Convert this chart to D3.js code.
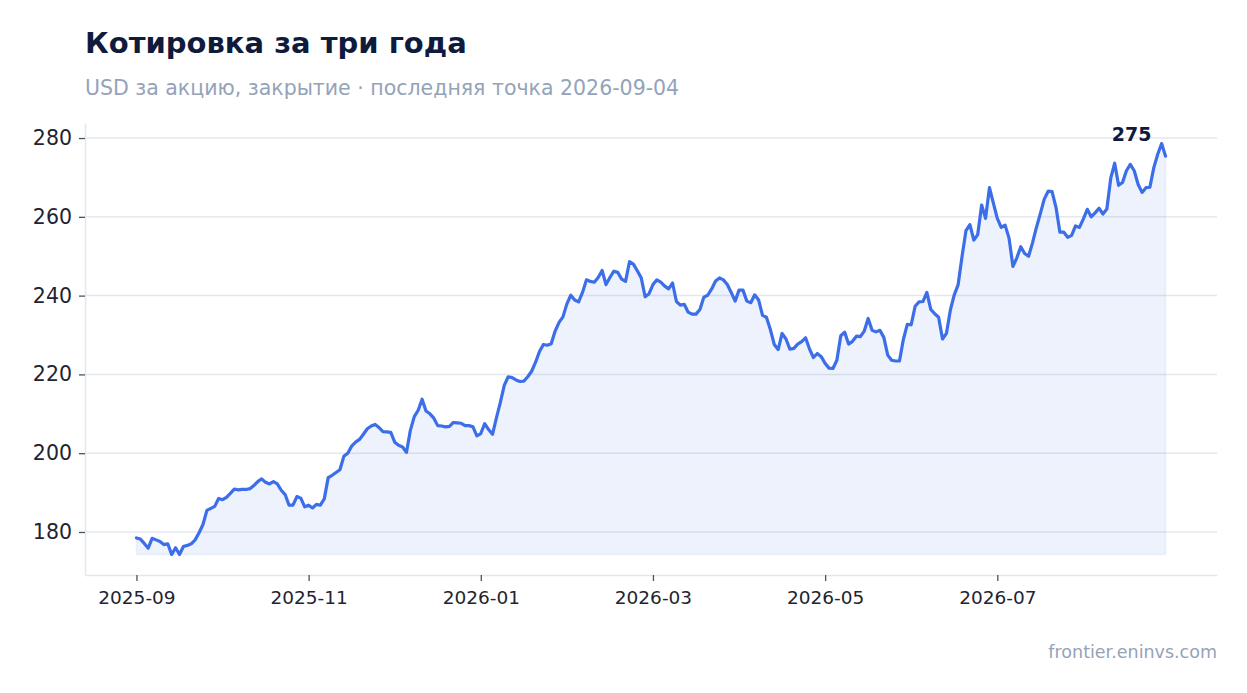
<!DOCTYPE html>
<html lang="ru">
<head>
<meta charset="utf-8">
<title>Котировка за три года</title>
<script src="https://cdn.jsdelivr.net/npm/d3@7"></script>
<style>
  html, body { margin: 0; padding: 0; background: #fff; }
  body { font-family: "DejaVu Sans", sans-serif; }
  svg { display: block; }
</style>
</head>
<body>
<svg id="chart"></svg>
<script>
// Closing price chart: one line with a light fill down to the series minimum.

// ---------------------------------------------------------------------------
// Data
// ---------------------------------------------------------------------------
const title    = "Котировка за три года";
const subtitle = "USD за акцию, закрытие · последняя точка 2026-09-04";
const source   = "frontier.eninvs.com";

// month labels, 22 trading points per month
const months = [
  "2025-09", "2025-10", "2025-11", "2025-12", "2026-01", "2026-02",
  "2026-03", "2026-04", "2026-05", "2026-06", "2026-07", "2026-08",
];
const pointsPerMonth = 22;

const closes = [
  178.5, 178.2, 177.1, 175.9, 178.4, 178.0, 177.6, 176.8, 177.0, 174.3, 176.0, 174.3, 176.3, 176.6, 177.0, 178.0, 179.8, 181.9, 185.5, 186.0, 186.5, 188.5,
  188.2, 188.8, 189.8, 190.9, 190.7, 190.8, 190.8, 191.0, 191.8, 192.8, 193.5, 192.6, 192.2, 192.8, 192.2, 190.6, 189.5, 186.8, 186.8, 189.0, 188.6, 186.4,
  186.8, 186.1, 187.0, 186.8, 188.4, 193.8, 194.4, 195.1, 195.8, 199.2, 200.0, 201.8, 202.8, 203.5, 204.8, 206.2, 206.9, 207.3, 206.5, 205.5, 205.4, 205.3,
  202.8, 202.0, 201.6, 200.2, 205.8, 209.3, 210.9, 213.7, 210.7, 210.0, 208.9, 207.0, 206.9, 206.7, 206.8, 207.8, 207.7, 207.6, 207.0, 207.0, 206.7, 204.4,
  205.0, 207.5, 206.0, 204.8, 209.0, 212.9, 217.2, 219.4, 219.2, 218.6, 218.2, 218.3, 219.4, 220.8, 223.1, 225.8, 227.6, 227.4, 227.8, 231.0, 233.2, 234.6,
  237.9, 240.1, 238.9, 238.4, 240.8, 244.0, 243.6, 243.4, 244.6, 246.4, 242.8, 244.6, 246.2, 245.9, 244.2, 243.6, 248.6, 248.0, 246.3, 244.5, 239.7, 240.5,
  242.8, 244.0, 243.4, 242.4, 241.7, 243.2, 238.5, 237.6, 237.8, 235.8, 235.3, 235.3, 236.5, 239.6, 240.1, 241.7, 243.7, 244.5, 244.0, 242.8, 240.8, 238.6,
  241.4, 241.4, 238.6, 238.2, 240.2, 238.9, 235.0, 234.5, 231.4, 227.6, 226.3, 230.4, 229.0, 226.4, 226.6, 227.7, 228.3, 229.3, 226.5, 224.3, 225.3, 224.5,
  222.8, 221.6, 221.5, 223.6, 229.8, 230.7, 227.7, 228.4, 229.7, 229.6, 231.0, 234.2, 231.2, 230.8, 231.2, 229.4, 224.9, 223.6, 223.4, 223.4, 228.9, 232.7,
  232.6, 237.3, 238.4, 238.5, 240.8, 236.5, 235.4, 234.5, 229.0, 230.4, 236.3, 240.2, 242.8, 250.0, 256.5, 258.0, 254.1, 255.5, 263.0, 259.6, 267.4, 263.5,
  259.6, 257.3, 257.9, 254.6, 247.4, 249.6, 252.4, 250.7, 250.0, 253.4, 257.3, 260.8, 264.5, 266.5, 266.4, 262.4, 256.1, 256.1, 254.8, 255.3, 257.7, 257.3,
  259.5, 261.9, 260.0, 261.0, 262.2, 260.7, 262.0, 269.8, 273.6, 268.0, 268.7, 271.7, 273.3, 271.7, 268.2, 266.2, 267.4, 267.5, 272.5, 275.9, 278.6, 275.4,
];

const yTicks = [180, 200, 220, 240, 260, 280];

// ---------------------------------------------------------------------------
// Layout
// ---------------------------------------------------------------------------
const width = 1247, height = 693;
const margin = { top: 123, right: 30, bottom: 118, left: 85 };
const plotW = width - margin.left - margin.right;
const plotH = height - margin.top - margin.bottom;

const lineColor = "#3b6ee8";
const textDark  = "#0f1b3d";
const textMuted = "#94a3b8";
const gridColor = "#e4e8ef";

const svg = d3.select("#chart").attr("width", width).attr("height", height);

// ---------------------------------------------------------------------------
// Scales (5% padding on both axes)
// ---------------------------------------------------------------------------
const n = closes.length;
const xPad = (n - 1) * 0.05;
const x = d3.scaleLinear()
  .domain([-xPad, n - 1 + xPad])
  .range([margin.left, margin.left + plotW]);

const [yMin, yMax] = d3.extent(closes);
const yPad = (yMax - yMin) * 0.05;
const y = d3.scaleLinear()
  .domain([yMin - yPad, yMax + yPad])
  .range([margin.top + plotH, margin.top]);

// ---------------------------------------------------------------------------
// Grid + axes
// ---------------------------------------------------------------------------
svg.append("g").selectAll("line").data(yTicks).join("line")
  .attr("x1", margin.left).attr("x2", margin.left + plotW)
  .attr("y1", (d) => y(d)).attr("y2", (d) => y(d))
  .attr("stroke", gridColor).attr("stroke-width", 1.5);

const xTickIdx = months.map((m, i) => i).filter((i) => i % 2 === 0);

const xAxis = svg.append("g")
  .attr("transform", `translate(0,${margin.top + plotH})`)
  .call(d3.axisBottom(x)
    .tickValues(xTickIdx.map((i) => i * pointsPerMonth))
    .tickFormat((d) => months[d / pointsPerMonth])
    .tickSize(6).tickSizeOuter(0).tickPadding(10));

const yAxis = svg.append("g")
  .attr("transform", `translate(${margin.left},0)`)
  .call(d3.axisLeft(y).tickValues(yTicks)
    .tickSize(6).tickSizeOuter(0).tickPadding(7));

[xAxis, yAxis].forEach((ax) => {
  ax.select(".domain").attr("stroke", "#e2e8f0").attr("stroke-width", 1.5);
  ax.selectAll(".tick line").attr("stroke", "#4b5160").attr("stroke-width", 1.3);
  ax.selectAll(".tick text")
    .attr("fill", "#1f2430")
    .style("font-family", "DejaVu Sans")
    .style("font-size", "18.5px");
});
yAxis.selectAll(".tick text").style("font-size", "20.5px");

// ---------------------------------------------------------------------------
// Area + line
// ---------------------------------------------------------------------------
const area = d3.area()
  .x((d, i) => x(i))
  .y0(y(yMin))
  .y1((d) => y(d));

svg.append("path").datum(closes)
  .attr("d", area)
  .attr("fill", lineColor).attr("fill-opacity", 0.09)
  .attr("stroke", lineColor).attr("stroke-opacity", 0.08).attr("stroke-width", 1.5);

const line = d3.line()
  .x((d, i) => x(i))
  .y((d) => y(d));

svg.append("path").datum(closes)
  .attr("d", line)
  .attr("fill", "none")
  .attr("stroke", lineColor).attr("stroke-width", 3.2)
  .attr("stroke-linejoin", "round").attr("stroke-linecap", "round");

// last value label
const last = closes[n - 1];
svg.append("text")
  .attr("x", x(n - 1) - 34).attr("y", y(last) - 15)
  .attr("text-anchor", "middle")
  .attr("fill", textDark)
  .style("font-size", "19px").style("font-weight", "bold")
  .text(Math.round(last));

// ---------------------------------------------------------------------------
// Titles
// ---------------------------------------------------------------------------
svg.append("text")
  .attr("x", margin.left).attr("y", 53)
  .attr("fill", textDark)
  .style("font-size", "29px").style("font-weight", "bold")
  .text(title);

svg.append("text")
  .attr("x", margin.left).attr("y", 95)
  .attr("fill", textMuted)
  .style("font-size", "20.5px")
  .text(subtitle);

svg.append("text")
  .attr("x", margin.left + plotW).attr("y", 658)
  .attr("text-anchor", "end")
  .attr("fill", textMuted)
  .style("font-size", "17.5px")
  .text(source);
</script>
</body>
</html>
